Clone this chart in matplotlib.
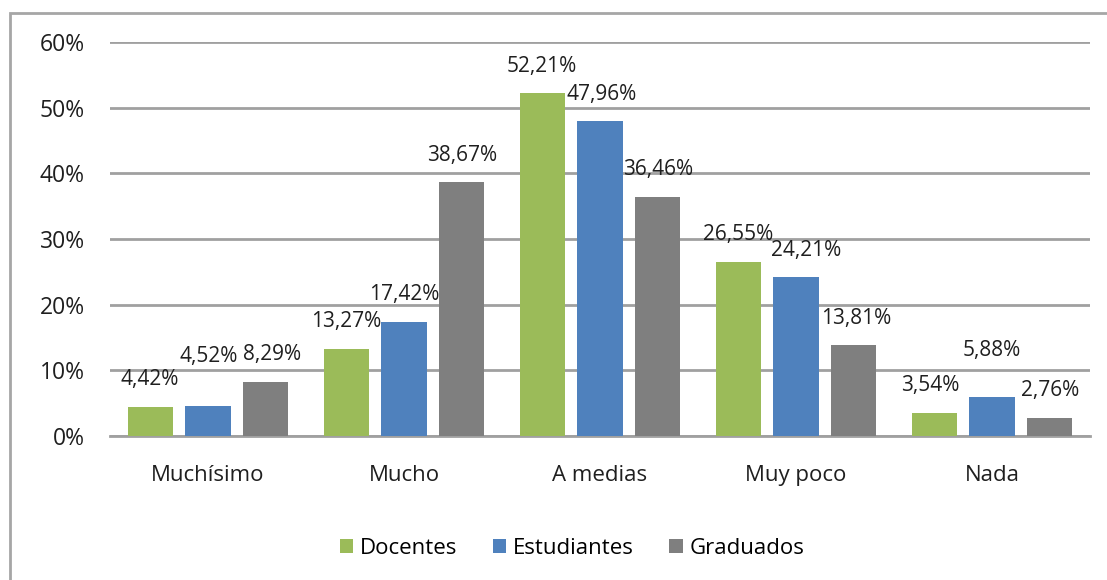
import matplotlib.pyplot as plt
from matplotlib.patches import Rectangle
import numpy as np

categories = ["Muchísimo", "Mucho", "A medias", "Muy poco", "Nada"]
series = ["Docentes", "Estudiantes", "Graduados"]
docentes = [4.42, 13.27, 52.21, 26.55, 3.54]
estudiantes = [4.52, 17.42, 47.96, 24.21, 5.88]
graduados = [8.29, 38.67, 36.46, 13.81, 2.76]
yticks = [0, 10, 20, 30, 40, 50, 60]

colors = ["#9BBB59", "#4F81BD", "#7F7F7F"]
plt.rcParams["font.family"] = ["Open Sans", "DejaVu Sans"]

fig = plt.figure(figsize=(11.07, 5.80), dpi=100)
# Outer border like the Excel chart area
fig.patches.append(Rectangle((10 / 1107, -0.1), 1.2, 1 - 13 / 580 + 0.1,
                             transform=fig.transFigure, fill=False,
                             edgecolor="#A6A6A6", linewidth=2))
ax = fig.add_axes([110 / 1107, 1 - 436 / 580, 980 / 1107, 394 / 580])

x = np.arange(len(categories))
step = 0.295
width = 0.23
# label nudges (pixels) where Excel pushed labels apart
nudge = {(1, 0): (1, 23), (2, 0): (6, 0), (1, 4): (0, 20), (1, 2): (2, 0),
         (1, 3): (10, 0), (2, 3): (2, 0), (0, 4): (-4, 0)}
for i, (name, vals) in enumerate(zip(series, [docentes, estudiantes, graduados])):
    pos = x + (i - 1) * step
    ax.bar(pos, vals, width, color=colors[i], label=name, zorder=3)
    for j, (p, v) in enumerate(zip(pos, vals)):
        dx, dy = nudge.get((i, j), (0, 0))
        txt = f"{v:.2f}%".replace(".", ",")
        ax.annotate(txt, (p, v), xytext=(dx, 27 + dy),
                    textcoords="offset pixels", ha="center", va="center",
                    fontsize=15, color="#1F1F1F", zorder=4)

ax.set_xlim(-0.5, 4.5)
ax.set_ylim(0, 60)
ax.set_yticks(yticks)
ax.set_yticklabels([f"{t}%" for t in yticks], fontsize=16.5, color="#1F1F1F")
ax.set_xticks(x)
ax.set_xticklabels(categories, fontsize=16, color="#1F1F1F")
ax.tick_params(axis="y", length=0, pad=18)
ax.tick_params(axis="x", length=0, pad=21)
ax.grid(axis="y", color="#A0A0A0", linewidth=2, zorder=0)
for s in ["top", "right", "left"]:
    ax.spines[s].set_visible(False)
ax.spines["bottom"].set_color("#A0A0A0")
ax.spines["bottom"].set_linewidth(2)

ax.legend(loc="center", bbox_to_anchor=(572 / 1107, 1 - 548 / 580),
          bbox_transform=fig.transFigure, ncol=3, frameon=False,
          fontsize=16, handlelength=0.6, handleheight=0.6,
          handletextpad=0.3, columnspacing=1.6)

fig.savefig("out.png", dpi=100)
